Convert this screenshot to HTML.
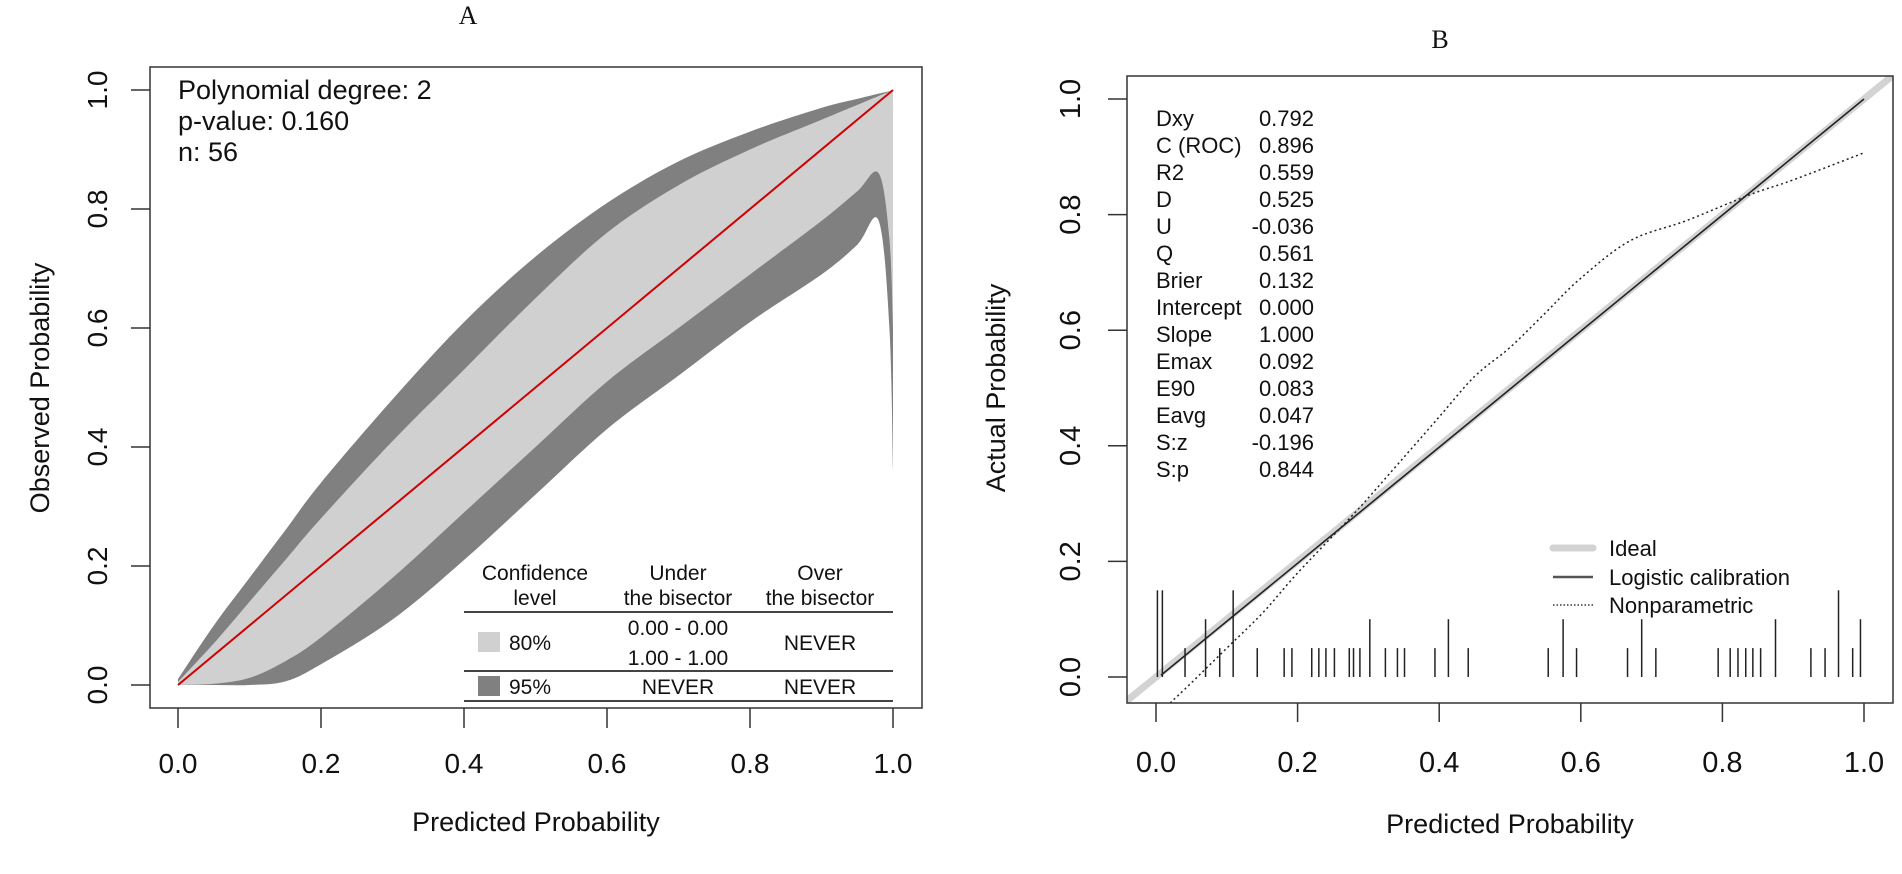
<!DOCTYPE html>
<html><head><meta charset="utf-8"><style>
html,body{margin:0;padding:0;background:#fff;}
svg{display:block;font-family:"Liberation Sans",Arial,sans-serif;}
</style></head><body>
<svg id="chart" width="1902" height="874" viewBox="0 0 1902 874" xmlns="http://www.w3.org/2000/svg">
<rect x="0" y="0" width="1902" height="874" fill="#fff"/>
<g id="panelA"></g>
<g id="panelB"></g>
</svg>
<script>
// Panel A data
const bandX = [0,0.05,0.1,0.15,0.2,0.3,0.4,0.5,0.6,0.7,0.8,0.9,0.95,0.98,0.995,1];
const upper95 = [0.01,0.1,0.18,0.26,0.34,0.48,0.61,0.72,0.81,0.88,0.93,0.97,0.985,0.994,0.998,1.0];
const upper80 = [0.005,0.07,0.14,0.21,0.28,0.41,0.53,0.65,0.76,0.84,0.90,0.95,0.975,0.99,0.997,1.0];
const lower80 = [0,0.002,0.012,0.04,0.08,0.18,0.29,0.40,0.51,0.60,0.69,0.78,0.83,0.86,0.75,0.6];
const lower95 = [0,0,0,0.006,0.035,0.11,0.21,0.32,0.43,0.52,0.61,0.69,0.74,0.78,0.6,0.36];
const tickVals = [0,0.2,0.4,0.6,0.8,1.0];
const tickLabels = ["0.0","0.2","0.4","0.6","0.8","1.0"];
// Panel B data
const statNames = ["Dxy","C (ROC)","R2","D","U","Q","Brier","Intercept","Slope","Emax","E90","Eavg","S:z","S:p"];
const statValues = ["0.792","0.896","0.559","0.525","-0.036","0.561","0.132","0.000","1.000","0.092","0.083","0.047","-0.196","0.844"];
const nonparX = [0.02,0.05,0.1,0.15,0.2,0.27,0.3,0.35,0.4,0.45,0.5,0.55,0.6,0.67,0.75,0.84,0.9,1.0];
const nonparY = [-0.045,-0.01,0.05,0.11,0.18,0.27,0.31,0.38,0.45,0.52,0.57,0.63,0.69,0.755,0.79,0.835,0.86,0.907];
const logisticX = [0.007,1.0];
const logisticY = [0.003,1.0];
const rugX = [0.002,0.009,0.041,0.07,0.09,0.109,0.143,0.181,0.192,0.22,0.23,0.24,0.252,0.273,0.279,0.288,0.302,0.324,0.341,0.351,0.394,0.413,0.441,0.554,0.575,0.594,0.666,0.686,0.706,0.794,0.811,0.822,0.833,0.843,0.854,0.875,0.925,0.945,0.964,0.984,0.995];
const rugCount = [3,3,1,2,1,3,1,1,1,1,1,1,1,1,1,1,2,1,1,1,1,2,1,1,2,1,1,2,1,1,1,1,1,1,1,2,1,1,3,1,2];

const NS='http://www.w3.org/2000/svg';
function mk(parent,tag,attrs,text){const e=document.createElementNS(NS,tag);for(const k in attrs)e.setAttribute(k,attrs[k]);if(text!==undefined)e.textContent=text;parent.appendChild(e);return e;}
function smooth(pts){
  let d='';
  for(let i=0;i<pts.length-1;i++){
    const p0=pts[Math.max(0,i-1)],p1=pts[i],p2=pts[i+1],p3=pts[Math.min(pts.length-1,i+2)];
    const c1x=p1[0]+(p2[0]-p0[0])/6,c1y=p1[1]+(p2[1]-p0[1])/6;
    const c2x=p2[0]-(p3[0]-p1[0])/6,c2y=p2[1]-(p3[1]-p1[1])/6;
    d+=` C${c1x.toFixed(1)},${c1y.toFixed(1)} ${c2x.toFixed(1)},${c2y.toFixed(1)} ${p2[0].toFixed(1)},${p2[1].toFixed(1)}`;
  }
  return d;
}

// ---------- Panel A ----------
const A=document.getElementById('panelA');
const ax=v=>178+v*715, ay=v=>685-v*595;
function bandPath(xs,top,bot){
  const t=xs.map((x,i)=>[ax(x),ay(top[i])]);
  const b=xs.map((x,i)=>[ax(x),ay(bot[i])]).reverse();
  return `M${t[0][0]},${t[0][1]}`+smooth(t)+` L${b[0][0]},${b[0][1]}`+smooth(b)+' Z';
}
let e;
e=mk(A,'path',{d:bandPath(bandX,upper95,lower95),fill:'#808080'});


e=mk(A,'path',{d:bandPath(bandX,upper80,lower80),fill:'#d0d0d0'});


e=mk(A,'line',{x1:ax(0),y1:ay(0),x2:ax(1),y2:ay(1),stroke:'#d00000','stroke-width':2});


e=mk(A,'rect',{x:150,y:67,width:772,height:641,fill:'none',stroke:'#333','stroke-width':1.5});


tickVals.forEach((v,i)=>{
  e=mk(A,'line',{x1:ax(v),y1:708,x2:ax(v),y2:728,stroke:'#333','stroke-width':1.5});
  
  
  e=mk(A,'text',{x:ax(v),y:773,'font-size':28,'text-anchor':'middle',fill:'#111'},tickLabels[i]);
  
  
  e=mk(A,'line',{x1:131,y1:ay(v),x2:150,y2:ay(v),stroke:'#333','stroke-width':1.5});
  
  
  e=mk(A,'text',{x:0,y:0,'font-size':28,'text-anchor':'middle',fill:'#111',transform:`translate(107,${ay(v)}) rotate(-90)`},tickLabels[i]);
  
  
});
e=mk(A,'text',{x:536,y:831,'font-size':27,'text-anchor':'middle',fill:'#111'},'Predicted Probability');


e=mk(A,'text',{x:0,y:0,'font-size':27,'text-anchor':'middle',fill:'#111',transform:'translate(49,388) rotate(-90)'},'Observed Probability');


e=mk(A,'text',{x:468,y:24,'font-size':26,'text-anchor':'middle',fill:'#111','font-family':'Liberation Serif, serif'},'A');


['Polynomial degree: 2','p-value: 0.160','n: 56'].forEach((t,i)=>{
  e=mk(A,'text',{x:178,y:99+i*31,'font-size':27,fill:'#111'},t);
  
  
});
const tb=mk(A,'g',{'font-size':21,fill:'#111','text-anchor':'middle'});


[['Confidence',535,580],['level',535,605],['Under',678,580],['the bisector',678,605],['Over',820,580],['the bisector',820,605],
 ['0.00 - 0.00',678,635],['1.00 - 1.00',678,665],['NEVER',820,650],['NEVER',678,694],['NEVER',820,694]].forEach(r=>{
  e=mk(tb,'text',{x:r[1],y:r[2]},r[0]);
  
  
});
e=mk(tb,'text',{x:509,y:650,'text-anchor':'start'},'80%');


e=mk(tb,'text',{x:509,y:694,'text-anchor':'start'},'95%');


e=mk(A,'rect',{x:478,y:632,width:22,height:20,fill:'#d0d0d0'});


e=mk(A,'rect',{x:478,y:676,width:22,height:20,fill:'#808080'});


[612,671,701].forEach(y=>{
  e=mk(A,'line',{x1:464,y1:y,x2:893,y2:y,stroke:'#444','stroke-width':2});
  
  
});

// ---------- Panel B ----------
const B=document.getElementById('panelB');
const bx=v=>1156+v*708, by=v=>677-v*578;
mk(B,'clipPath',{id:'clipB'}).appendChild(document.createElementNS(NS,'rect'));
const cr=B.querySelector('#clipB rect');cr.setAttribute('x',1127);cr.setAttribute('y',76);cr.setAttribute('width',766);cr.setAttribute('height',627);
const pg=mk(B,'g',{'clip-path':'url(#clipB)'});


e=mk(pg,'line',{x1:bx(-0.1),y1:by(-0.1),x2:bx(1.1),y2:by(1.1),stroke:'#d3d3d3','stroke-width':7});


e=mk(pg,'polyline',{points:logisticX.map((x,i)=>bx(x)+','+by(logisticY[i])).join(' '),fill:'none',stroke:'#222','stroke-width':1.6});


const npPts=nonparX.map((x,i)=>[bx(x),by(nonparY[i])]);
e=mk(pg,'path',{d:`M${npPts[0][0]},${npPts[0][1]}`+smooth(npPts),fill:'none',stroke:'#222','stroke-width':1.5,'stroke-dasharray':'2,3'});


rugX.forEach((x,i)=>{
  e=mk(pg,'line',{x1:bx(x),y1:by(0),x2:bx(x),y2:by(0.05*rugCount[i]),stroke:'#222','stroke-width':1.5});
  
  
});
e=mk(B,'rect',{x:1127,y:76,width:766,height:627,fill:'none',stroke:'#333','stroke-width':1.5});


tickVals.forEach((v,i)=>{
  e=mk(B,'line',{x1:bx(v),y1:703,x2:bx(v),y2:722,stroke:'#333','stroke-width':1.5});
  
  
  e=mk(B,'text',{x:bx(v),y:772,'font-size':29,'text-anchor':'middle',fill:'#111'},tickLabels[i]);
  
  
  e=mk(B,'line',{x1:1108,y1:by(v),x2:1127,y2:by(v),stroke:'#333','stroke-width':1.5});
  
  
  e=mk(B,'text',{x:0,y:0,'font-size':29,'text-anchor':'middle',fill:'#111',transform:`translate(1080,${by(v)}) rotate(-90)`},tickLabels[i]);
  
  
});
e=mk(B,'text',{x:1510,y:833,'font-size':27,'text-anchor':'middle',fill:'#111'},'Predicted Probability');


e=mk(B,'text',{x:0,y:0,'font-size':27,'text-anchor':'middle',fill:'#111',transform:'translate(1005,388) rotate(-90)'},'Actual Probability');


e=mk(B,'text',{x:1440,y:48,'font-size':26,'text-anchor':'middle',fill:'#111','font-family':'Liberation Serif, serif'},'B');


statNames.forEach((n,i)=>{
  e=mk(B,'text',{x:1156,y:126+i*27,'font-size':22,fill:'#111'},n);
  
  
  e=mk(B,'text',{x:1314,y:126+i*27,'font-size':22,fill:'#111','text-anchor':'end'},statValues[i]);
  
  
});
const lg=mk(B,'g',{});


[['Ideal',548,{stroke:'#d3d3d3','stroke-width':7,'stroke-linecap':'round'}],
 ['Logistic calibration',577,{stroke:'#555','stroke-width':2.5}],
 ['Nonparametric',605,{stroke:'#333','stroke-width':1.5,'stroke-dasharray':'1.5,2'}]].forEach(r=>{
  const a=Object.assign({x1:1553,y1:r[1],x2:1593,y2:r[1]},r[2]);
  e=mk(lg,'line',a);
  
  
  e=mk(lg,'text',{x:1609,y:r[1]+8,'font-size':22,fill:'#111'},r[0]);
  
  
});
</script>
</body></html>
